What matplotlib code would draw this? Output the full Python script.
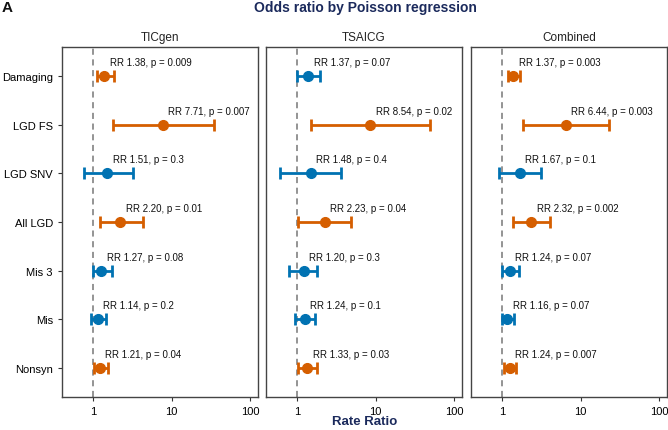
import numpy as np
import matplotlib
matplotlib.use("Agg")
import matplotlib.pyplot as plt

plt.rcParams['font.family'] = ['Liberation Sans', 'DejaVu Sans']

categories = ["Damaging", "LGD FS", "LGD SNV", "All LGD", "Mis 3", "Mis", "Nonsyn"]
panels = ["TICgen", "TSAICG", "Combined"]

# rate ratio, lower CI, upper CI, p-value per panel
tic_rr = [1.38, 7.71, 1.51, 2.20, 1.27, 1.14, 1.21]
tic_lo = [1.11, 1.78, 0.75, 1.20, 0.98, 0.94, 1.02]
tic_hi = [1.81, 34.1, 3.17, 4.24, 1.73, 1.43, 1.52]
tic_p = ["0.009", "0.007", "0.3", "0.01", "0.08", "0.2", "0.04"]

tsa_rr = [1.37, 8.54, 1.48, 2.23, 1.20, 1.24, 1.33]
tsa_lo = [0.98, 1.50, 0.60, 1.03, 0.79, 0.93, 1.02]
tsa_hi = [1.95, 48.8, 3.63, 4.78, 1.80, 1.67, 1.77]
tsa_p = ["0.07", "0.02", "0.4", "0.04", "0.3", "0.1", "0.03"]

com_rr = [1.37, 6.44, 1.67, 2.32, 1.24, 1.16, 1.24]
com_lo = [1.17, 1.84, 0.90, 1.37, 1.00, 1.00, 1.05]
com_hi = [1.70, 22.6, 3.13, 4.04, 1.62, 1.41, 1.51]
com_p = ["0.003", "0.003", "0.1", "0.002", "0.07", "0.07", "0.007"]

data = [
    (tic_rr, tic_lo, tic_hi, tic_p),
    (tsa_rr, tsa_lo, tsa_hi, tsa_p),
    (com_rr, com_lo, com_hi, com_p),
]

ORANGE = "#D55E00"
BLUE = "#0072B2"
NAVY = "#1b2a5c"

fig = plt.figure(figsize=(6.68, 4.31), dpi=100)
lefts = [62, 266, 471]
w = 196 / 668
bottom = 1 - 398 / 431
h = (398 - 48) / 431

ypos = np.arange(len(categories))[::-1] + 1

for k, (name, (rr, lo, hi, p)) in enumerate(zip(panels, data)):
    ax = fig.add_axes([lefts[k] / 668, bottom, w, h])
    ax.set_xscale('log')
    ax.axvline(1, color='#777777', linestyle=(0, (4, 3)), linewidth=1.1, zorder=1)
    for i in range(len(categories)):
        col = ORANGE if float(p[i]) < 0.05 else BLUE
        ax.errorbar(rr[i], ypos[i], xerr=[[rr[i] - lo[i]], [hi[i] - rr[i]]],
                    fmt='o', color=col, markersize=7, elinewidth=2,
                    capsize=4.5, capthick=2, zorder=3)
        ax.annotate(f"RR {rr[i]:.2f}, p = {p[i]}", (rr[i], ypos[i]),
                    xytext=(4, 6.5), textcoords='offset points',
                    ha='left', va='bottom', fontsize=7, color='#111111')
    ax.set_xlim(10 ** -0.4, 10 ** 2.1)
    ax.set_ylim(0.4, 7.6)
    ax.set_xticks([1, 10, 100])
    ax.set_xticklabels(["1", "10", "100"])
    ax.xaxis.set_minor_locator(matplotlib.ticker.NullLocator())
    ax.tick_params(labelsize=8, length=3, color='#333333')
    ax.set_yticks(ypos)
    if k == 0:
        ax.set_yticklabels(categories)
    else:
        ax.set_yticklabels([])
        ax.tick_params(axis='y', length=0)
    for s in ax.spines.values():
        s.set_color('#444444')
        s.set_linewidth(1)
    ax.set_title(name, fontsize=8.5, pad=5, color='#222222')

fig.text(365 / 668, 1 - 8 / 431, "Odds ratio by Poisson regression",
         ha='center', va='center', fontsize=10, fontweight='bold', color=NAVY)
fig.text(2 / 668, 1 - 8 / 431, "A", ha='left', va='center',
         fontsize=11, fontweight='bold', color='#111111')
fig.text(365 / 668, 1 - 422 / 431, "Rate Ratio", ha='center', va='center',
         fontsize=9.5, fontweight='bold', color=NAVY)

fig.savefig("out.png", dpi=100)
